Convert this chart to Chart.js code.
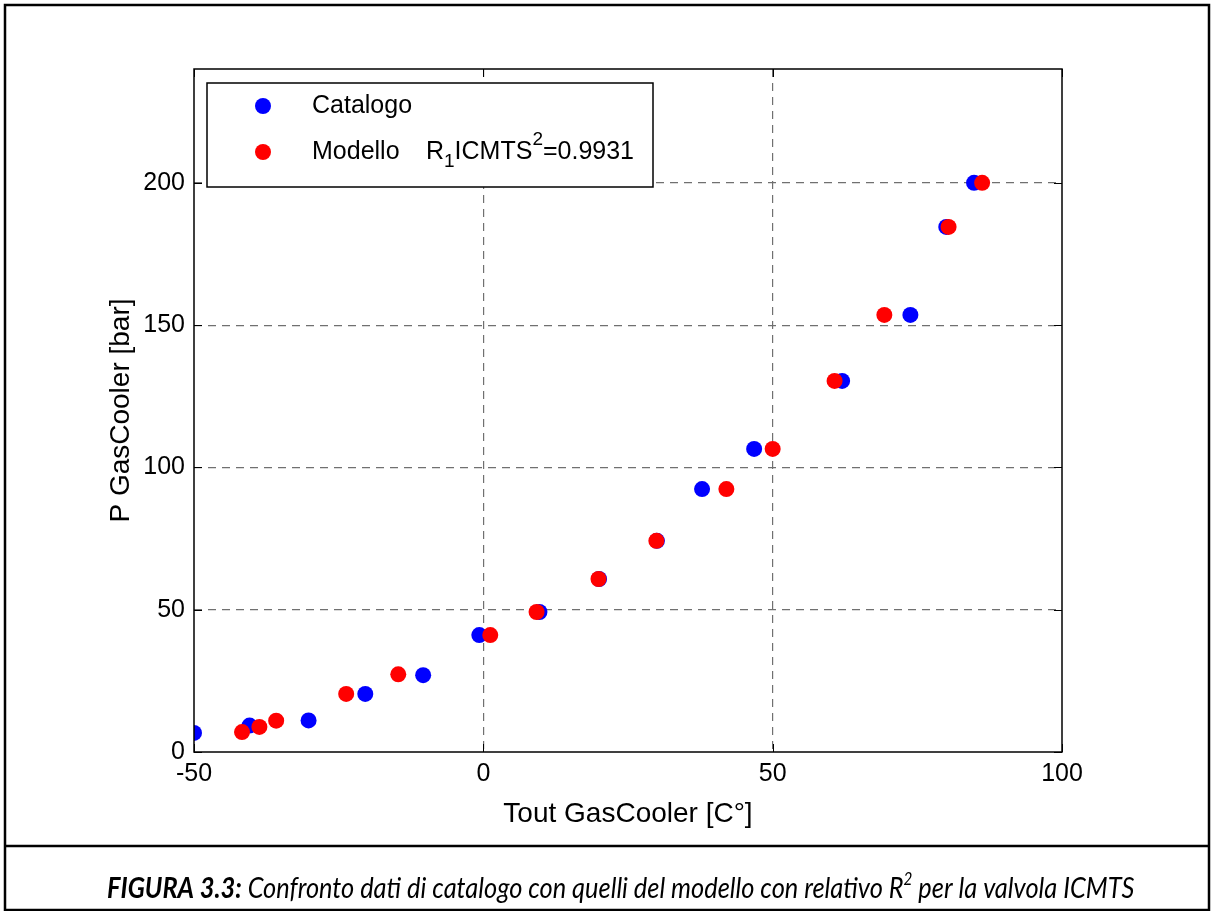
<!DOCTYPE html>
<html><head><meta charset="utf-8">
<script src="https://cdn.jsdelivr.net/npm/chart.js@4/dist/chart.umd.min.js"></script>
<style>html,body{margin:0;padding:0;background:#fff;overflow:hidden}#wrap{position:relative;width:1213px;height:911px}</style>
</head><body><div id="wrap"><canvas id="c" width="1213" height="911"></canvas></div>
<script>
// ---- data ----
const catalogoX = [-50, -40.4, -30.2, -20.4, -10.4, -0.7, 9.7, 20, 30, 37.8, 46.8, 62, 73.8, 80, 84.8];
const catalogoY = [6.7, 9.3, 11.1, 20.4, 27, 41.1, 49.2, 60.8, 74.2, 92.4, 106.5, 130.4, 153.6, 184.5, 200];
const modelloX  = [-41.7, -38.7, -35.8, -23.7, -14.7, 1.2, 9.2, 19.9, 29.9, 42, 50, 60.7, 69.3, 80.4, 86.2];
const modelloY  = [7, 8.8, 11, 20.4, 27.3, 41.1, 49.2, 60.8, 74.2, 92.4, 106.5, 130.4, 153.6, 184.5, 200];
const xTicks = [-50, 0, 50, 100];
const yTicks = [0, 50, 100, 150, 200];
const seriesNames = ['Catalogo', 'Modello'];
const r2Label = ['R', '1', 'ICMTS', '2', '=0.9931'];
const xTitle = 'Tout GasCooler [C°]';
const yTitle = 'P GasCooler [bar]';
const captionParts = ['FIGURA 3.3:', ' Confronto dati di catalogo con quelli del modello con relativo R', '2', ' per la valvola ICMTS'];

const toPts = (xs, ys) => xs.map((x, i) => ({x, y: ys[i]}));
const AF = '"Liberation Sans", Arial, sans-serif';

const framePlugin = {
  id: 'frame',
  afterDraw(chart) {
    const ctx = chart.ctx, a = chart.chartArea;
    const sx = chart.scales.x, sy = chart.scales.y;
    ctx.save();
    ctx.strokeStyle = '#000'; ctx.lineWidth = 1.5; ctx.setLineDash([]);
    ctx.strokeRect(a.left, a.top, a.right - a.left, a.bottom - a.top);
    ctx.lineWidth = 1;
    const tl = 8;
    ctx.beginPath();
    xTicks.forEach(v => { const p = Math.round(sx.getPixelForValue(v)) + 0.5;
      ctx.moveTo(p, a.bottom); ctx.lineTo(p, a.bottom - tl);
      ctx.moveTo(p, a.top); ctx.lineTo(p, a.top + tl); });
    yTicks.forEach(v => { const p = Math.round(sy.getPixelForValue(v)) + 0.5;
      ctx.moveTo(a.left, p); ctx.lineTo(a.left + tl, p);
      ctx.moveTo(a.right, p); ctx.lineTo(a.right - tl, p); });
    ctx.stroke();

    // legend
    const L = {x: 207, y: 83, w: 446, h: 104};
    ctx.fillStyle = '#fff'; ctx.fillRect(L.x, L.y, L.w, L.h);
    ctx.strokeStyle = '#000'; ctx.lineWidth = 1.5;
    ctx.strokeRect(L.x, L.y, L.w, L.h);
    const rows = [106, 152];
    chart.data.datasets.forEach((ds, i) => {
      ctx.fillStyle = ds.backgroundColor;
      ctx.beginPath(); ctx.arc(263, rows[i], 8, 0, Math.PI * 2); ctx.fill();
    });
    ctx.fillStyle = '#000'; ctx.textBaseline = 'middle'; ctx.textAlign = 'left';
    ctx.font = '25px ' + AF;
    ctx.fillText(seriesNames[0], 312, rows[0]);
    ctx.fillText(seriesNames[1], 312, rows[1]);
    let x = 426;
    ctx.fillText(r2Label[0], x, rows[1]); x += ctx.measureText(r2Label[0]).width;
    ctx.font = '19px ' + AF; ctx.fillText(r2Label[1], x, rows[1] + 10); x += ctx.measureText(r2Label[1]).width;
    ctx.font = '25px ' + AF; ctx.fillText(r2Label[2], x, rows[1]); x += ctx.measureText(r2Label[2]).width;
    ctx.font = '19px ' + AF; ctx.fillText(r2Label[3], x, rows[1] - 12); x += ctx.measureText(r2Label[3]).width;
    ctx.font = '25px ' + AF; ctx.fillText(r2Label[4], x, rows[1]);

    // outer frame + caption box
    ctx.strokeStyle = '#000'; ctx.lineWidth = 2.5;
    ctx.strokeRect(5, 5, 1204, 905);
    ctx.beginPath(); ctx.moveTo(5, 846); ctx.lineTo(1209, 846); ctx.stroke();

    // caption
    const fam = 'Lato, "Open Sans", sans-serif';
    const target = 1028, sq = 0.9;
    const widthAt = (s) => {
      ctx.font = `italic bold ${s}px ${fam}`; let w = ctx.measureText(captionParts[0]).width;
      ctx.font = `italic ${s}px ${fam}`; w += ctx.measureText(captionParts[1]).width;
      ctx.font = `italic ${s * 0.6}px ${fam}`; w += ctx.measureText(captionParts[2]).width;
      ctx.font = `italic ${s}px ${fam}`; w += ctx.measureText(captionParts[3]).width;
      return w;
    };
    const s = 20 * (target / sq) / widthAt(20);
    ctx.translate(107, 898); ctx.scale(sq, 1);
    let cx = 0;
    ctx.textBaseline = 'alphabetic'; ctx.fillStyle = '#000';
    ctx.font = `italic bold ${s}px ${fam}`; ctx.fillText(captionParts[0], cx, 0); cx += ctx.measureText(captionParts[0]).width;
    ctx.font = `italic ${s}px ${fam}`; ctx.fillText(captionParts[1], cx, 0); cx += ctx.measureText(captionParts[1]).width;
    ctx.font = `italic ${s * 0.6}px ${fam}`; ctx.fillText(captionParts[2], cx, -s * 0.45); cx += ctx.measureText(captionParts[2]).width;
    ctx.font = `italic ${s}px ${fam}`; ctx.fillText(captionParts[3], cx, 0);
    ctx.restore();
  }
};

new Chart(document.getElementById('c'), {
  type: 'scatter',
  data: {
    datasets: [
      {label: seriesNames[0], data: toPts(catalogoX, catalogoY), backgroundColor: '#0000ff', borderWidth: 0, pointRadius: 8, pointHoverRadius: 8, order: 2},
      {label: seriesNames[1], data: toPts(modelloX, modelloY), backgroundColor: '#ff0000', borderWidth: 0, pointRadius: 8, pointHoverRadius: 8, order: 1}
    ]
  },
  options: {
    responsive: false, animation: false,
    layout: {padding: {top: 69, right: 151, left: 0, bottom: 0}},
    plugins: {legend: {display: false}, tooltip: {enabled: false}},
    scales: {
      x: {
        type: 'linear', min: -50, max: 100,
        afterBuildTicks: s => { s.ticks = xTicks.map(v => ({value: v})); },
        afterFit: s => { s.height = 159; },
        ticks: {color: '#000', font: {family: AF, size: 25}, padding: 7, maxRotation: 0},
        grid: {drawTicks: false, tickLength: 0, lineWidth: 1.2,
               color: c => (c.tick && (c.tick.value === -50 || c.tick.value === 100)) ? 'rgba(0,0,0,0)' : '#707070'},
        border: {display: false, dash: [8, 6]},
        title: {display: true, text: xTitle, color: '#000', font: {family: AF, size: 28}, padding: {top: 0, bottom: 80}}
      },
      y: {
        type: 'linear', min: 0, max: 240,
        afterBuildTicks: s => { s.ticks = yTicks.map(v => ({value: v})); },
        afterFit: s => { s.width = 194; },
        ticks: {color: '#000', font: {family: AF, size: 25}, padding: 9},
        grid: {drawTicks: false, tickLength: 0, lineWidth: 1.2,
               color: c => (c.tick && c.tick.value === 0) ? 'rgba(0,0,0,0)' : '#707070'},
        border: {display: false, dash: [8, 6]},
        title: {display: true, text: yTitle, color: '#000', font: {family: AF, size: 28}, padding: {top: 104, bottom: 0}}
      }
    }
  },
  plugins: [framePlugin]
});
</script></body></html>
